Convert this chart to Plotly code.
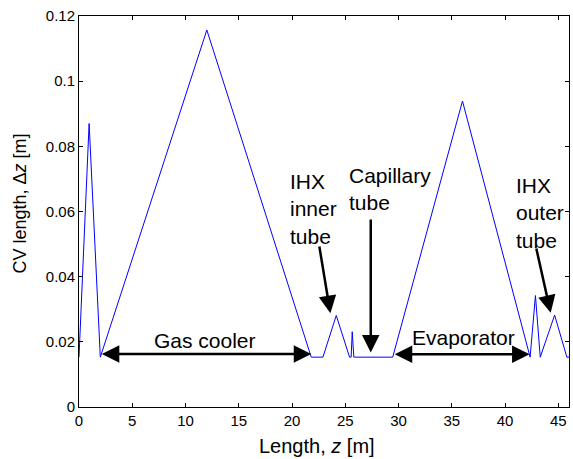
import plotly.graph_objects as go

# Data (vertices of CV length profile)
z_vals = [0, 0.95, 2.0, 12.0, 21.8, 22.9, 24.15, 25.4, 25.55, 25.65, 25.8, 29.45,
          36.0, 42.35, 42.85, 43.3, 44.65, 45.8, 46.0]
dz_vals = [0.0153, 0.087, 0.0153, 0.1157, 0.0153, 0.0153, 0.0281, 0.0153, 0.0153, 0.0231,
           0.0153, 0.0153, 0.0939, 0.0153, 0.0342, 0.0153, 0.0282, 0.0153, 0.0153]

x_ticks = [0, 5, 10, 15, 20, 25, 30, 35, 40, 45]
y_ticks = [0, 0.02, 0.04, 0.06, 0.08, 0.1, 0.12]
y_tick_labels = ["0", "0.02", "0.04", "0.06", "0.08", "0.1", "0.12"]

FONT = "Arial, Liberation Sans, Helvetica, sans-serif"

fig = go.Figure()
fig.add_trace(go.Scatter(x=z_vals, y=dz_vals, mode="lines",
                         line=dict(color="#0000ff", width=1), showlegend=False,
                         hoverinfo="skip"))

ann = []
# double arrows
def darrow(x0, x1, y):
    ann.append(dict(x=x1, y=y, ax=x0, ay=y, xref="x", yref="y", axref="x", ayref="y",
                    text="", showarrow=True, arrowhead=2, startarrowhead=2,
                    arrowside="end+start", arrowsize=1.4, startarrowsize=1.4,
                    arrowwidth=2.5, arrowcolor="black"))

def arrow(x0, y0, x1, y1):
    ann.append(dict(x=x1, y=y1, ax=x0, ay=y0, xref="x", yref="y", axref="x", ayref="y",
                    text="", showarrow=True, arrowhead=2, arrowsize=1.4,
                    arrowwidth=2.5, arrowcolor="black"))

def label(x, y, txt, xanchor="center"):
    ann.append(dict(x=x, y=y, xref="x", yref="y", text=txt, showarrow=False,
                    xanchor=xanchor, yanchor="middle", align="left",
                    font=dict(family=FONT, size=21, color="black")))

darrow(2.0, 21.8, 0.0163)
darrow(29.5, 42.3, 0.0162)
arrow(22.54, 0.0497, 23.6, 0.0288)
arrow(27.39, 0.058, 27.39, 0.0167)
arrow(42.9, 0.0491, 44.28, 0.0289)

label(11.85, 0.0205, "Gas cooler")
label(36.05, 0.0213, "Evaporator")
label(19.64, 0.0607, "IHX<br>inner<br>tube", xanchor="left")
label(25.18, 0.0669, "Capillary<br>tube", xanchor="left")
label(40.84, 0.0596, "IHX<br>outer<br>tube", xanchor="left")

# axis titles
ann.append(dict(x=0.485, y=-0.10, xref="paper", yref="paper", showarrow=False,
                text="Length, <i>z</i> [m]", xanchor="center", yanchor="middle",
                font=dict(family=FONT, size=20, color="black")))
ann.append(dict(x=-0.1203, y=0.5207, xref="paper", yref="paper", showarrow=False,
                text="CV length, Δ<i>z</i> [m]", textangle=-90,
                xanchor="center", yanchor="middle",
                font=dict(family=FONT, size=18, color="black")))

axis_common = dict(showline=True, linecolor="black", linewidth=1, mirror="ticks",
                   ticks="inside", ticklen=4, tickcolor="black", showgrid=False,
                   zeroline=False, tickfont=dict(family=FONT, size=15, color="black"))

fig.update_layout(
    width=573, height=459,
    margin=dict(l=79, r=4, t=16, b=52),
    paper_bgcolor="white", plot_bgcolor="white",
    xaxis=dict(range=[0, 46], tickvals=x_ticks, **axis_common),
    yaxis=dict(range=[0, 0.12], tickvals=y_ticks, ticktext=y_tick_labels, **axis_common),
    annotations=ann,
)

fig.write_html("out.html")
